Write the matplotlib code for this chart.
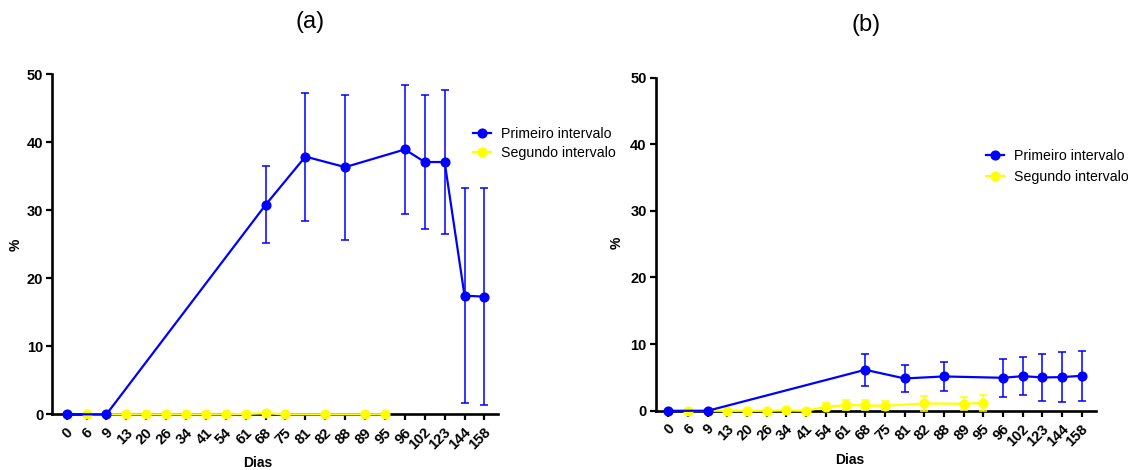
import matplotlib
matplotlib.use("Agg")
import matplotlib.pyplot as plt
import matplotlib.transforms as mtransforms
from matplotlib.lines import Line2D

plt.rcParams['font.family'] = ['Liberation Sans', 'DejaVu Sans']

# ==========================================
# dados
# ==========================================
DIAS = ['0', '6', '9', '13', '20', '26', '34', '41', '54', '61', '68',
        '75', '81', '82', '88', '89', '95', '96', '102', '123', '144', '158']

PRIM_DIAS = ['0', '9', '68', '81', '88', '96', '102', '123', '144', '158']
SEG_DIAS = ['6', '13', '20', '26', '34', '41', '54', '61', '68', '75', '82', '89', '95']

# (a)
a_prim_media = [0, 0, 30.8, 37.9, 36.35, 38.95, 37.1, 37.1, 17.45, 17.3]
a_prim_erro = [0, 0, 5.65, 9.4, 10.65, 9.55, 9.8, 10.6, 15.85, 16.0]
a_seg_media = [0, 0, 0, 0, 0, 0, 0, 0.05, 0.15, 0, 0, 0, 0]
a_seg_erro = [0, 0, 0, 0, 0, 0, 0, 0, 0, 0, 0, 0, 0]

# (b)
b_prim_media = [0, 0, 6.15, 4.85, 5.15, 4.95, 5.2, 5.0, 5.05, 5.25]
b_prim_erro = [0, 0, 2.4, 2.0, 2.15, 2.85, 2.9, 3.5, 3.7, 3.75]
b_seg_media = [0, 0, 0, 0, 0.05, 0, 0.6, 0.85, 0.8, 0.75, 1.1, 1.05, 1.2]
b_seg_erro = [0, 0, 0, 0, 0, 0, 0.55, 0.75, 0.75, 0.65, 1.1, 1.0, 1.2]

AZUL = '#0000FF'
AMARELO = '#FFFF00'


def idx(dias):
    return [DIAS.index(d) for d in dias]


def painel(ax, prim_media, prim_erro, seg_media, seg_erro, xlim):
    estilo = dict(marker='o', markersize=6.3, linewidth=1.6, elinewidth=1.1,
                  capsize=2.7, capthick=1.1, clip_on=False, zorder=3)
    ax.errorbar(idx(SEG_DIAS), seg_media, yerr=seg_erro, color=AMARELO, **estilo)
    ax.errorbar(idx(PRIM_DIAS), prim_media, yerr=prim_erro, color=AZUL, **estilo)

    ax.set_xlim(*xlim)
    ax.set_ylim(0, 50)
    ax.set_yticks([0, 10, 20, 30, 40, 50])
    ax.set_xticks(range(len(DIAS)))

    for s in ['top', 'right']:
        ax.spines[s].set_visible(False)
    for s in ['left', 'bottom']:
        ax.spines[s].set_linewidth(1.9)
        ax.spines[s].set_zorder(1)
    ax.tick_params(width=1.6, length=4.5, labelsize=10.5, direction='out')
    ax.tick_params(axis='x', pad=7)
    ax.tick_params(axis='y', pad=2)

    ax.set_xticklabels(DIAS, rotation=45, ha='right', va='center',
                       rotation_mode='anchor')
    # rótulos inclinados um pouco à direita do traço
    desloc = mtransforms.ScaledTranslation(4 / 100, 0, ax.figure.dpi_scale_trans)
    for lbl in ax.get_xticklabels():
        lbl.set_transform(lbl.get_transform() + desloc)
    for lbl in ax.get_xticklabels() + ax.get_yticklabels():
        lbl.set_fontweight('bold')


fig = plt.figure(figsize=(11.28, 4.70), dpi=100)
ax1 = fig.add_axes([0.0464, 0.1185, 0.3954, 0.7234])
ax2 = fig.add_axes([0.5813, 0.126, 0.390, 0.709])

painel(ax1, a_prim_media, a_prim_erro, a_seg_media, a_seg_erro, (-0.72, 21.7))
painel(ax2, b_prim_media, b_prim_erro, b_seg_media, b_seg_erro, (-0.64, 21.7))

legenda = [Line2D([], [], color=AZUL, marker='o', markersize=6.3, linewidth=1.6),
           Line2D([], [], color=AMARELO, marker='o', markersize=6.3, linewidth=1.6)]
nomes = ['Primeiro intervalo', 'Segundo intervalo']

W, H = 1128, 470
for ax, lx, ly, esp in [(ax1, 473, 143.5, 0.35), (ax2, 986, 166.5, 0.55)]:
    ax.legend(legenda, nomes, loc='center left',
              bbox_to_anchor=(lx / W, 1 - ly / H), bbox_transform=fig.transFigure,
              frameon=False, fontsize=10.2, borderpad=0, borderaxespad=0,
              handlelength=1.3, handletextpad=0.7, labelspacing=esp)

fig.text(310 / W, 1 - 22 / H, '(a)', fontsize=17, ha='center', va='center')
fig.text(866 / W, 1 - 25 / H, '(b)', fontsize=17, ha='center', va='center')

fig.text(258 / W, 1 - 463 / H, 'Dias', fontsize=10, fontweight='bold', ha='center', va='center')
fig.text(850 / W, 1 - 460 / H, 'Dias', fontsize=10, fontweight='bold', ha='center', va='center')
fig.text(16 / W, 1 - 245 / H, '%', fontsize=10, fontweight='bold', rotation=90, ha='center', va='center')
fig.text(617 / W, 1 - 243 / H, '%', fontsize=10, fontweight='bold', rotation=90, ha='center', va='center')

plt.savefig('out.png', dpi=100)
